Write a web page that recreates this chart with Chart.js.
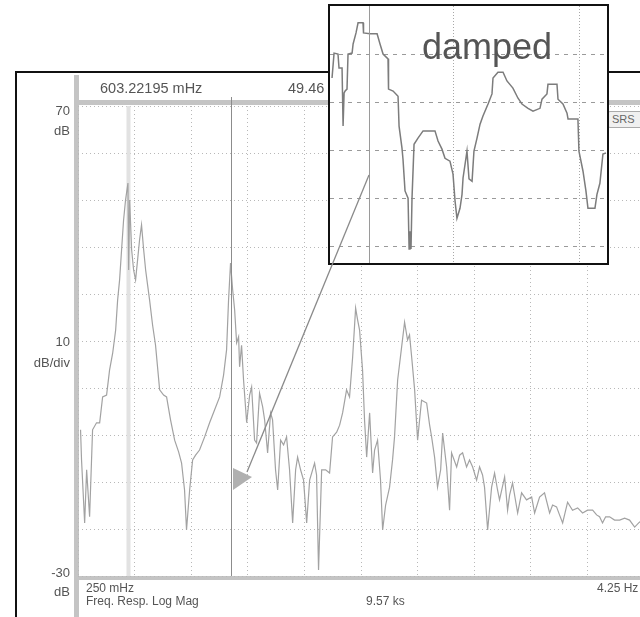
<!DOCTYPE html>
<html lang="en">
<head>
<meta charset="UTF-8">
<title>Freq. Resp. Log Mag</title>
<script src="https://cdn.jsdelivr.net/npm/chart.js"></script>
<style>
  body {
    margin: 0;
    width: 640px;
    height: 617px;
    overflow: hidden;
    position: relative;
    background: #fff;
    font-family: "Liberation Sans", Arial, sans-serif;
  }
  .frame {
    position: absolute;
    left: 15px;
    top: 71px;
    width: 700px;
    height: 700px;
    border: 2px solid #111;
  }
  .bar { position: absolute; background: #c4c4c4; }
  #main { position: absolute; left: 0; top: 0; }
  .lbl {
    position: absolute;
    color: #555;
    font-size: 12px;
    line-height: 1;
    white-space: nowrap;
  }
  .left { text-align: right; right: 570px; font-size: 13px; }
  .srs {
    position: absolute;
    left: 607px;
    top: 111px;
    width: 44px;
    height: 15px;
    border: 1px solid #aaa;
    border-radius: 3px;
    background: #f0f0f0;
    color: #666;
    font-size: 11px;
    line-height: 15px;
    padding-left: 4px;
  }
  #inset {
    position: absolute;
    left: 328px;
    top: 4px;
    width: 277px;
    height: 257px;
    border: 2px solid #111;
    background: #fff;
    z-index: 5;
  }
  .damped {
    position: absolute;
    left: 422px;
    top: 29px;
    font-size: 36px;
    line-height: 1;
    color: #555;
    z-index: 6;
  }
  svg { position: absolute; left: 0; top: 0; z-index: 10; }
</style>
</head>
<body>

  <div class="frame"></div>
  <div class="bar" style="left:74px; top:75px; width:5px; height:560px;"></div>
  <div class="bar" style="left:79px; top:100px; width:600px; height:5px;"></div>
  <div class="bar" style="left:79px; top:576px; width:600px; height:4px;"></div>

  <canvas id="main" width="660" height="617"></canvas>

  <div class="lbl" style="left:100px; top:81px; font-size:14.5px;">603.22195 mHz</div>
  <div class="lbl" style="left:288px; top:81px; font-size:14.5px;">49.46 dB</div>
  <div class="lbl left" style="top:104px;">70</div>
  <div class="lbl left" style="top:124px;">dB</div>
  <div class="lbl left" style="top:335px;">10</div>
  <div class="lbl left" style="top:356px;">dB/div</div>
  <div class="lbl left" style="top:566px;">-30</div>
  <div class="lbl left" style="top:585px;">dB</div>
  <div class="lbl" style="left:86px; top:582px;">250 mHz</div>
  <div class="lbl" style="left:86px; top:595px;">Freq. Resp. Log Mag</div>
  <div class="lbl" style="left:366px; top:595px;">9.57 ks</div>
  <div class="lbl" style="left:597px; top:582px;">4.25 Hz</div>
  <div class="srs">SRS</div>

  <div id="inset"><canvas id="zoom" width="277" height="257"></canvas></div>
  <div class="damped">damped</div>

  <svg width="640" height="617">
    <line x1="369" y1="175" x2="247" y2="472" stroke="#8a8a8a" stroke-width="1.3"/>
    <polygon points="233,468 233,490 252,477" fill="#b0b0b0"/>
  </svg>

  <script>
    // main trace: frequency (Hz) and log magnitude (dB)
    const freqHz = [
      0.268, 0.275, 0.297, 0.311, 0.332, 0.353, 0.381, 0.403, 0.424, 0.452,
      0.473, 0.495, 0.516, 0.530, 0.544, 0.558, 0.572, 0.586, 0.603, 0.608,
      0.615, 0.629, 0.643, 0.657, 0.671, 0.685, 0.699, 0.714, 0.728, 0.742,
      0.756, 0.777, 0.798, 0.827, 0.855, 0.876, 0.904, 0.933, 0.961, 0.982,
      1.003, 1.017, 1.039, 1.060, 1.081, 1.109, 1.145, 1.180, 1.215, 1.251,
      1.279, 1.300, 1.314, 1.328, 1.343, 1.357, 1.371, 1.385, 1.392, 1.406,
      1.420, 1.442, 1.463, 1.477, 1.498, 1.512, 1.533, 1.555, 1.569, 1.590,
      1.611, 1.625, 1.646, 1.661, 1.682, 1.703, 1.724, 1.745, 1.767, 1.788,
      1.802, 1.823, 1.844, 1.866, 1.887, 1.922, 1.936, 1.950, 1.972, 2.000,
      2.028, 2.049, 2.078, 2.099, 2.120, 2.148, 2.169, 2.191, 2.212, 2.226,
      2.240, 2.261, 2.275, 2.290, 2.311, 2.332, 2.346, 2.367, 2.388, 2.403,
      2.424, 2.452, 2.473, 2.487, 2.509, 2.537, 2.558, 2.579, 2.593, 2.608,
      2.629, 2.650, 2.664, 2.678, 2.714, 2.735, 2.749, 2.770, 2.791, 2.813,
      2.827, 2.855, 2.876, 2.890, 2.926, 2.947, 2.968, 2.996, 3.017, 3.039,
      3.067, 3.088, 3.109, 3.123, 3.145, 3.173, 3.194, 3.215, 3.229, 3.265,
      3.286, 3.300, 3.321, 3.357, 3.385, 3.420, 3.456, 3.477, 3.512, 3.547,
      3.583, 3.604, 3.632, 3.653, 3.675, 3.710, 3.745, 3.781, 3.816, 3.851,
      3.887, 3.915, 3.936, 3.957, 3.979, 4.007, 4.042, 4.078, 4.113, 4.148,
      4.184, 4.219, 4.250
    ];
    const magDb = [
      1.1, -5.3, -18.7, -7.4, -17.4, 1.1, 2.6, 2.6, 8.1, 8.5,
      13.8, 17.4, 22.3, 28.7, 33.0, 39.4, 45.7, 50.0, 53.6, 35.1,
      50.0, 39.4, 35.1, 33.0, 37.2, 41.5, 44.7, 39.4, 35.1, 31.9,
      28.7, 23.4, 19.1, 9.6, 8.5, 8.1, 3.2, -1.1, -3.6, -6.0,
      -11.7, -20.2, -11.7, -5.3, -4.3, -3.2, -0.4, 2.6, 5.3, 8.1,
      12.8, 18.1, 28.7, 36.6, 30.9, 26.6, 19.6, 20.9, 14.5, 19.1,
      11.7, 2.6, 8.5, 10.2, -1.1, -1.7, 8.9, 6.0, 3.2, -3.8,
      4.7, 3.2, -7.4, -11.7, -1.1, -2.1, -0.4, -7.4, -18.7, -7.4,
      -4.7, -7.4, -9.6, -18.7, -9.6, -6.0, -8.5, -28.7, -7.4, -7.4,
      -8.1, -0.4, 0.6, 2.1, 4.7, 9.6, 8.1, 16.6, 27.0, 24.5,
      22.3, 13.8, 3.2, -4.7, 4.7, -8.1, -3.2, -1.1, -9.6, -20.2,
      -14.9, -11.1, -5.3, -0.4, 11.7, 18.7, 24.0, 20.2, 21.3, 16.6,
      9.6, -1.1, 3.2, 7.4, 6.8, 2.1, -0.4, -4.7, -11.1, -7.4,
      0.4, -6.8, -16.0, -3.8, -6.8, -4.3, -3.8, -6.8, -5.3, -6.8,
      -9.6, -6.8, -8.5, -11.1, -20.2, -11.1, -8.1, -11.7, -13.8, -8.9,
      -16.0, -12.8, -10.2, -16.6, -12.3, -13.8, -13.2, -16.6, -13.2, -12.3,
      -16.6, -14.9, -15.3, -17.0, -18.7, -14.3, -16.0, -15.5, -16.6, -16.0,
      -16.0, -17.0, -17.4, -18.7, -17.4, -17.4, -18.1, -18.1, -17.7, -18.1,
      -19.6, -18.5, -19.1
    ];
    const freqTicks = [0.25, 0.65, 1.05, 1.45, 1.85, 2.25, 2.65, 3.05, 3.45, 3.85, 4.25];
    const markerHz = 0.603;
    const cursorHz = 1.328;

    // inset ("damped") trace, in screen divisions: x across, y down from top
    const zoomX = [
      0.047, 0.063, 0.094, 0.102, 0.126, 0.134, 0.142, 0.150, 0.165, 0.173,
      0.205, 0.213, 0.236, 0.252, 0.291, 0.295, 0.346, 0.402, 0.425, 0.449,
      0.488, 0.492, 0.528, 0.567, 0.575, 0.598, 0.606, 0.622, 0.646, 0.654,
      0.661, 0.669, 0.677, 0.693, 0.724, 0.764, 0.858, 0.882, 0.913, 0.937,
      0.976, 1.000, 1.016, 1.031, 1.055, 1.071, 1.079, 1.110, 1.126, 1.150,
      1.165, 1.189, 1.213, 1.236, 1.276, 1.307, 1.315, 1.354, 1.394, 1.425,
      1.472, 1.512, 1.543, 1.591, 1.630, 1.685, 1.701, 1.740, 1.748, 1.819,
      1.827, 1.866, 1.898, 1.906, 1.984, 1.992, 2.024, 2.047, 2.063, 2.118,
      2.134, 2.157, 2.181, 2.205
    ];
    const zoomY = [
      -1.50, -0.98, -1.00, -1.29, -1.29, -2.50, -1.81, -1.77, -1.73, -1.00,
      -0.98, -0.79, -0.56, -0.35, -0.35, -0.56, -0.58, -0.58, -0.79, -1.00,
      -1.10, -1.73, -1.77, -1.88, -2.50, -2.96, -3.19, -3.85, -4.00, -5.06,
      -4.69, -5.06, -4.00, -2.88, -2.75, -2.60, -2.60, -2.81, -2.98, -3.17,
      -3.23, -3.50, -4.06, -4.42, -4.21, -3.92, -3.58, -3.02, -3.60, -3.65,
      -3.02, -2.75, -2.46, -2.29, -2.04, -1.83, -1.50, -1.38, -1.38, -1.56,
      -1.71, -1.92, -2.04, -2.13, -2.19, -2.13, -1.94, -1.83, -1.63, -1.63,
      -1.94, -2.04, -2.23, -2.35, -2.35, -3.02, -3.44, -3.85, -4.21, -4.21,
      -3.92, -3.69, -3.08, -3.06
    ];
    const zoomCursor = 0.339;

    function vline(chart, value, color, width, topExtra) {
      const { ctx, chartArea, scales } = chart;
      const px = Math.round(scales.x.getPixelForValue(value)) + 0.5;
      ctx.save();
      ctx.strokeStyle = color;
      ctx.lineWidth = width;
      ctx.beginPath();
      ctx.moveTo(px, chartArea.top - topExtra);
      ctx.lineTo(px, chartArea.bottom);
      ctx.stroke();
      ctx.restore();
    }

    const mainCursors = {
      id: 'mainCursors',
      beforeDatasetsDraw(chart) { vline(chart, markerHz, '#e2e2e2', 4, 0); },
      afterDatasetsDraw(chart) { vline(chart, cursorHz, '#8c8c8c', 1, 9); }
    };
    const zoomCursorLine = {
      id: 'zoomCursorLine',
      afterDatasetsDraw(chart) { vline(chart, zoomCursor, '#9a9a9a', 1, 0); }
    };

    new Chart(document.getElementById('main').getContext('2d'), {
      type: 'line',
      data: {
        datasets: [{
          data: freqHz.map((f, i) => ({ x: f, y: magDb[i] })),
          borderColor: '#a2a2a2',
          borderWidth: 1.2,
          pointRadius: 0,
          tension: 0
        }]
      },
      options: {
        responsive: false,
        animation: false,
        devicePixelRatio: 1,
        layout: { padding: { left: 78, top: 106, right: 16, bottom: 41 } },
        plugins: { legend: { display: false }, tooltip: { enabled: false } },
        scales: {
          x: {
            type: 'linear',
            min: 0.25,
            max: 4.25,
            afterBuildTicks: (s) => { s.ticks = freqTicks.map(v => ({ value: v })); },
            ticks: { display: false },
            grid: { color: '#b8b8b8', drawTicks: false },
            border: { display: false, dash: [1, 3] }
          },
          y: {
            min: -30,
            max: 70,
            ticks: { display: false, stepSize: 10 },
            grid: { color: '#b8b8b8', drawTicks: false },
            border: { display: false, dash: [1, 3] }
          }
        }
      },
      plugins: [mainCursors]
    });

    new Chart(document.getElementById('zoom').getContext('2d'), {
      type: 'line',
      data: {
        datasets: [{
          data: zoomX.map((v, i) => ({ x: v, y: zoomY[i] })),
          borderColor: '#7c7c7c',
          borderWidth: 1.5,
          pointRadius: 0,
          tension: 0
        }]
      },
      options: {
        responsive: false,
        animation: false,
        devicePixelRatio: 1,
        layout: { padding: 0 },
        plugins: { legend: { display: false }, tooltip: { enabled: false } },
        scales: {
          x: {
            type: 'linear',
            min: 0.031,
            max: 2.213,
            afterBuildTicks: (s) => { s.ticks = [1, 2].map(v => ({ value: v })); },
            ticks: { display: false },
            grid: { color: '#a8a8a8', drawTicks: false },
            border: { display: false, dash: [1, 2] }
          },
          y: {
            min: -5.35,
            max: 0,
            afterBuildTicks: (s) => { s.ticks = [-5, -4, -3, -2, -1].map(v => ({ value: v })); },
            ticks: { display: false },
            grid: { color: '#9a9a9a', drawTicks: false },
            border: { display: false, dash: [4, 5] }
          }
        }
      },
      plugins: [zoomCursorLine]
    });
  </script>

</body>
</html>
